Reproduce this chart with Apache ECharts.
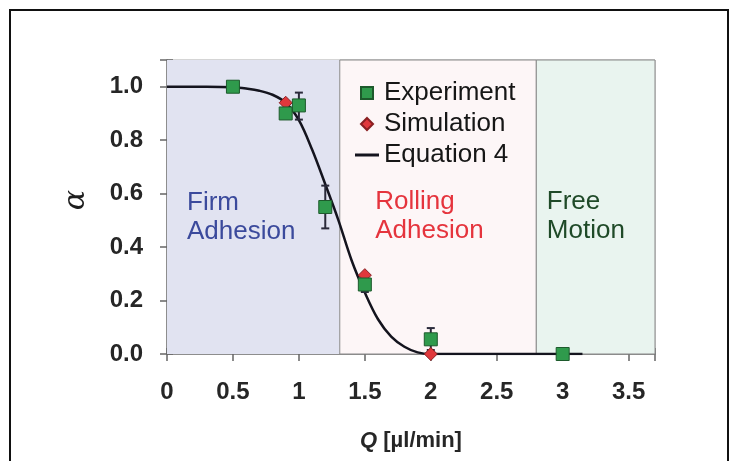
<!DOCTYPE html>
<html>
<head>
<meta charset="utf-8">
<script src="https://cdn.jsdelivr.net/npm/echarts@6/dist/echarts.min.js"></script>
<style>
  html, body { margin: 0; padding: 0; background: #fff; }
  #chart { width: 734px; height: 461px; position: relative; }
  #frame { position: absolute; left: 9px; top: 9px; width: 716px; height: 470px; border: 2px solid #111; pointer-events: none; }
</style>
</head>
<body>
<div id="chart"></div>
<div id="frame"></div>
<script>
// Equation 4 curve
const curveQ = [0, 0.3, 0.5, 0.6, 0.7, 0.8, 0.9, 1.0, 1.1, 1.2, 1.3, 1.4, 1.5, 1.6, 1.7, 1.8, 1.9, 2.0, 2.5, 3.15];
const curveAlpha = [1.0, 1.0, 0.998, 0.993, 0.985, 0.97, 0.94, 0.875, 0.765, 0.635, 0.5, 0.35, 0.23, 0.13, 0.065, 0.027, 0.006, 0.0, 0.0, 0.0];

// Experiment points and error bars
const expQ = [0.5, 0.9, 1.0, 1.2, 1.5, 2.0, 3.0];
const expAlpha = [1.0, 0.90, 0.93, 0.55, 0.26, 0.055, 0.0];
const errQ = [1.0, 1.2, 1.5, 2.0];
const errLow = [0.877, 0.47, 0.232, 0.015];
const errHigh = [0.978, 0.63, 0.288, 0.097];

// Simulation points
const simQ = [0.9, 1.5, 2.0];
const simAlpha = [0.94, 0.295, 0.0];

// Flow regimes
const regionNames = ['Firm\nAdhesion', 'Rolling\nAdhesion', 'Free\nMotion'];
const regionStart = [0, 1.31, 2.8];
const regionEnd = [1.31, 2.8, 3.7];
const regionFill = ['#e1e3f1', '#fdf6f7', '#e9f4ef'];
const regionText = ['#3b4a9c', '#e5343d', '#1f4a28'];
const regionOffset = [[20, 128], [36, 128], [11, 128]];

const font = '"Liberation Sans", Arial, sans-serif';
const labelColor = '#262626';

const chart = echarts.init(document.getElementById('chart'));

const tickStyle = { color: '#666', width: 1.5 };

const option = {
  animation: false,
  grid: {
    left: 167, right: 79, top: 60, bottom: 107,
    show: true, borderColor: '#ababab', borderWidth: 1, backgroundColor: 'transparent'
  },
  legend: {
    orient: 'vertical',
    left: 350, top: 75,
    itemGap: 5,
    itemWidth: 24, itemHeight: 12,
    textStyle: { fontFamily: font, fontSize: 26, lineHeight: 26, color: '#161616' },
    data: [
      { name: 'Experiment', icon: 'path://M0,0H10V10H0Z' },
      { name: 'Simulation', icon: 'path://M5,0L10,5L5,10L0,5Z' },
      { name: 'Equation 4', icon: 'path://M0,0H24V3H0Z' }
    ]
  },
  xAxis: [
    {
      type: 'value', min: 0, max: 3.7, interval: 0.5,
      axisLine: { onZero: false, lineStyle: { color: '#777', width: 1.5 } },
      axisTick: { inside: true, length: 6, lineStyle: tickStyle },
      minorTick: { show: true, splitNumber: 5, length: 5, lineStyle: { color: '#888' } },
      splitLine: { show: false },
      axisLabel: {
        fontFamily: font, fontSize: 24, fontWeight: 'bold', color: labelColor, margin: 26,
        showMaxLabel: false
      },
      name: '{q|Q} [µl/min]',
      nameLocation: 'middle', nameGap: 76,
      nameTextStyle: {
        fontFamily: font, fontSize: 22, fontWeight: 'bold', color: labelColor,
        rich: { q: { fontFamily: font, fontSize: 22, fontWeight: 'bold', fontStyle: 'italic', color: labelColor } }
      }
    },
    {
      // outer half of the major ticks
      type: 'value', min: 0, max: 3.7, interval: 0.5, position: 'bottom',
      axisLine: { show: false },
      axisTick: { length: 7, lineStyle: tickStyle },
      axisLabel: { show: false },
      splitLine: { show: false }
    }
  ],
  yAxis: [
    {
      type: 'value', min: 0, max: 1.1, interval: 0.2,
      axisLine: { lineStyle: { color: '#777', width: 1.5 } },
      axisTick: { inside: true, length: 6, lineStyle: tickStyle },
      minorTick: { show: true, splitNumber: 4, length: 5, lineStyle: { color: '#888' } },
      splitLine: { show: false },
      axisLabel: {
        fontFamily: font, fontSize: 24, fontWeight: 'bold', color: labelColor, margin: 24,
        showMaxLabel: false,
        formatter: v => v.toFixed(1)
      },
      name: 'α',
      nameLocation: 'middle', nameGap: 76, nameRotate: 90,
      nameTextStyle: {
        fontFamily: '"DejaVu Serif", serif', fontSize: 30, fontStyle: 'italic', color: '#1e1e1e',
        padding: [0, 0, 0, 14]
      }
    },
    {
      type: 'value', min: 0, max: 1.1, interval: 0.2, position: 'left',
      axisLine: { show: false },
      axisTick: { length: 7, lineStyle: tickStyle },
      axisLabel: { show: false },
      splitLine: { show: false }
    }
  ],
  series: [
    {
      name: 'Equation 4',
      type: 'line',
      data: curveQ.map((q, i) => [q, curveAlpha[i]]),
      smooth: 0.35,
      showSymbol: false,
      lineStyle: { color: '#14141e', width: 2.5 },
      itemStyle: { color: '#14141e' },
      z: 3,
      markArea: {
        silent: true,
        data: regionNames.map((name, i) => [
          {
            xAxis: regionStart[i],
            itemStyle: { color: regionFill[i], borderColor: '#8a8a8a', borderWidth: i === 0 ? 0 : 1 },
            label: {
              show: true, formatter: name, position: regionOffset[i],
              fontFamily: font, fontSize: 26, lineHeight: 29, color: regionText[i]
            }
          },
          { xAxis: regionEnd[i] }
        ])
      }
    },
    {
      name: 'Error',
      type: 'custom',
      data: errQ.map((q, i) => [q, errLow[i], errHigh[i]]),
      renderItem: (params, api) => {
        const lo = api.coord([api.value(0), api.value(1)]);
        const hi = api.coord([api.value(0), api.value(2)]);
        const style = { stroke: '#2a2a3a', lineWidth: 2 };
        return {
          type: 'group',
          children: [
            { type: 'line', shape: { x1: lo[0], y1: lo[1], x2: hi[0], y2: hi[1] }, style },
            { type: 'line', shape: { x1: lo[0] - 4, y1: lo[1], x2: lo[0] + 4, y2: lo[1] }, style },
            { type: 'line', shape: { x1: hi[0] - 4, y1: hi[1], x2: hi[0] + 4, y2: hi[1] }, style }
          ]
        };
      },
      z: 4
    },
    {
      name: 'Simulation',
      type: 'scatter',
      data: simQ.map((q, i) => [q, simAlpha[i]]),
      symbol: 'diamond',
      symbolSize: 13,
      itemStyle: { color: '#e0383c', borderColor: '#8a1f22', borderWidth: 1, opacity: 1 },
      z: 5
    },
    {
      name: 'Experiment',
      type: 'scatter',
      data: expQ.map((q, i) => [q, expAlpha[i]]),
      symbol: 'rect',
      symbolSize: 13,
      itemStyle: { color: '#2f9a4c', borderColor: '#1d5a2c', borderWidth: 1, opacity: 1 },
      z: 6
    }
  ]
};

chart.setOption(option);
window.addEventListener('resize', () => chart.resize());
</script>
</body>
</html>
